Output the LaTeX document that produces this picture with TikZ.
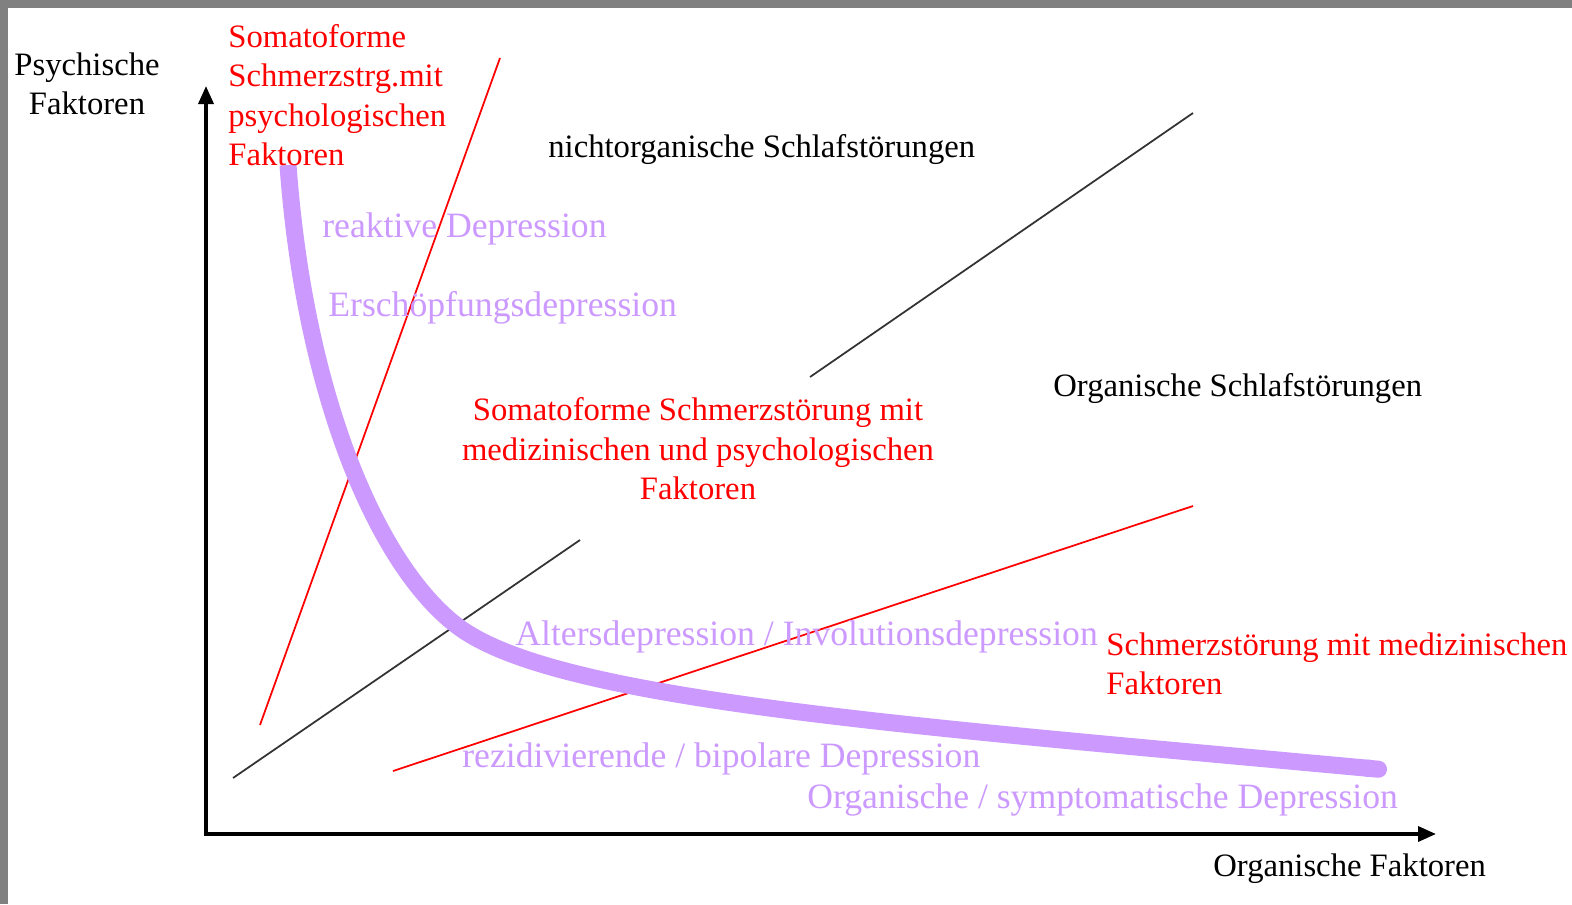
\documentclass[tikz,border=0pt]{standalone}
\usepackage{fontspec}
\setmainfont{Liberation Serif}
\usetikzlibrary{calc,arrows.meta}
\definecolor{lila}{HTML}{CC99FF}
\definecolor{rahmen}{HTML}{808080}
\tikzset{
  redlab/.style={text=red, font=\fontsize{18.6}{22.5}\selectfont, inner sep=0pt},
  blacklab/.style={text=black, font=\fontsize{18.6}{22.5}\selectfont, inner sep=0pt},
  lilalab/.style={text=lila, font=\fontsize{20.3}{24}\selectfont, inner sep=0pt},
  achse/.style={line width=2pt, {Triangle[length=0.36cm,width=0.3cm]}-{Triangle[length=0.36cm,width=0.3cm]}},
  dunn/.style={line width=1pt},
}

\begin{document}
\begin{tikzpicture}[x=0.02cm, y=-0.02cm]
\fill[rahmen] (0,0) rectangle (1572,904);
\fill[white] (8,8) rectangle (1572,904);
\useasboundingbox (0,0) rectangle (1572,904);

%%%%%%%%%%%%%%%%%%%%%%%%%%%%%%%%%%%%%%%%%%%%%%%%%%%%%%%%%%%%%% axes
\coordinate (O) at (206,834);
\coordinate (ytip) at (206,86);
\coordinate (xtip) at (1436,834);
\draw[achse] (ytip) -- (O) -- (xtip);

\node[blacklab, align=center] (ylab) at (87,84) {Psychische\\Faktoren};
\node[blacklab, anchor=west] (xlab) at (1213,869) {Organische Faktoren};

%%%%%%%%%%%%%%%%%%%%%%%%%%%%%%%%%%%%%%%%%%%%%%%%%%%%%%%%%%%%%% lines
\coordinate (r1a) at (260,725);
\coordinate (r1b) at (500,58);
\coordinate (r2a) at (393,771);
\coordinate (r2b) at (1193,506);
\coordinate (b1a) at (233,778);
\coordinate (b1b) at (580,540);
\coordinate (b2a) at (810,377);
\coordinate (b2b) at (1193,113);

\draw[red, dunn] (r1a) -- (r1b);
\draw[red, dunn] (r2a) -- (r2b);
\draw[black!80, dunn] (b1a) -- (b1b);
\draw[black!80, dunn] (b2a) -- (b2b);

%%%%%%%%%%%%%%%%%%%%%%%%%%%%%%%%%%%%%%%%%%%%%%%%%%%%%%%%%%%%%% curve
\coordinate (c0) at (288,165);
\coordinate (c1) at (460,628);
\coordinate (c2) at (1387,770);
\draw[lila, line width=9.7pt, -{Round Cap[]}] (c0) .. controls (305,400) and (380,570) .. (c1)
  .. controls (560,700) and (900,725) .. (c2);

%%%%%%%%%%%%%%%%%%%%%%%%%%%%%%%%%%%%%%%%%%%%%%%%%%%%%%%%%%%%%% labels
\node[redlab, align=left, anchor=west] (somapsy) at (228,95) {Somatoforme\\Schmerzstrg.mit\\psychologischen\\Faktoren};
\node[blacklab, anchor=west] (nichtorg) at (548,150) {nichtorganische Schlafstörungen};
\node[lilalab, anchor=west] (reaktiv) at (322,229) {reaktive Depression};
\node[lilalab, anchor=west] (erschoepf) at (328,308) {Erschöpfungsdepression};
\node[blacklab, anchor=west] (orgschlaf) at (1053,389) {Organische Schlafstörungen};
\node[redlab, align=center] (somamed) at (698,449) {Somatoforme Schmerzstörung mit\\medizinischen und psychologischen\\Faktoren};
\node[lilalab, anchor=west] (alters) at (515,637) {Altersdepression / Involutionsdepression};
\node[redlab, align=left, anchor=west] (schmerzmed) at (1106,664) {Schmerzstörung mit medizinischen\\Faktoren};
\node[lilalab, anchor=west] (rezidiv) at (462,759) {rezidivierende / bipolare Depression};
\node[lilalab, anchor=west] (orgdep) at (807,800) {Organische / symptomatische Depression};

\end{tikzpicture}
\end{document}
